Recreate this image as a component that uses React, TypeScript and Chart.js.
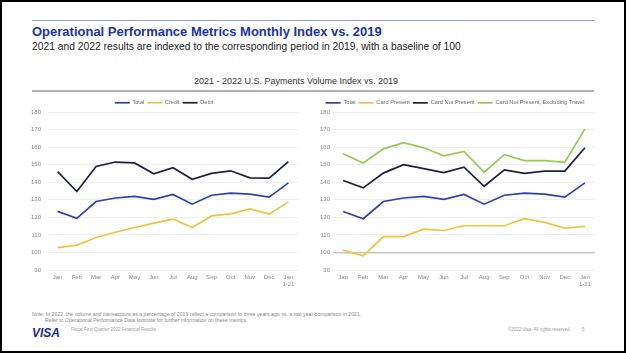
import React, { useEffect, useRef } from 'react';
import { Chart, registerables } from 'chart.js';

Chart.register(...registerables);

// ---- Data ----
const categories: (string | string[])[] = ['Jan', 'Feb', 'Mar', 'Apr', 'May', 'Jun', 'Jul', 'Aug', 'Sep', 'Oct', 'Nov', 'Dec', ['Jan', '1-21']];
const yTickMin = 90;
const yTickMax = 180;
const yTickStep = 10;

const leftTotal = [123.4, 119.4, 129, 131, 131.9, 130.2, 133, 127.5, 132.6, 133.8, 133.2, 131.5, 139.6];
const leftCredit = [102.7, 104.2, 108.5, 111.5, 114.2, 116.7, 119, 114.2, 120.8, 122, 124.8, 121.8, 128.8];
const leftDebit = [146, 134.7, 149, 151.5, 151, 144.8, 148.3, 141.7, 145, 146.5, 142.5, 142.3, 151.7];

const rightTotal = [123.3, 119.2, 129, 131, 131.9, 130.2, 133, 127.5, 132.6, 133.8, 133.2, 131.5, 139.6];
const rightCardPresent = [101.3, 98.1, 109, 109, 113.3, 112.5, 115.2, 115.2, 115.2, 119.2, 117.1, 113.8, 114.8];
const rightCardNotPresent = [141, 136.8, 145.2, 150, 147.7, 145.5, 148.6, 137.7, 147, 145, 146.3, 146.3, 159.6];
const rightCNPExTravel = [156.2, 151, 159, 162.5, 159.6, 155, 157.6, 145.7, 155.7, 152.3, 152.3, 151.3, 170.4];

const leftNames = ['Total', 'Credit', 'Debit'];
const rightNames = ['Total', 'Card Present', 'Card Not Present', 'Card Not Present, Excluding Travel'];

// ---- Styles ----
const FONT = '"Liberation Sans", Arial, Helvetica, sans-serif';
const BLUE = '#2e40b0';
const YELLOW = '#f4c13c';
const NAVY = '#1c2140';
const GREEN = '#98c954';

function ds(label: string, data: number[], color: string) {
  return {
    label,
    data,
    borderColor: color,
    backgroundColor: color,
    borderWidth: 1.7,
    pointRadius: 0,
    pointHoverRadius: 0,
    tension: 0,
    fill: false,
  };
}

type ChartProps = {
  left: number;
  top: number;
  width: number;
  height: number;
  datasets: any[];
  padding: { top: number; left: number; right: number; bottom: number };
  yPad: number;
  legendSize: number;
  highlight100: boolean;
};

function LineChart({ left, top, width, height, datasets, padding, yPad, legendSize, highlight100 }: ChartProps) {
  const ref = useRef<HTMLCanvasElement>(null);
  useEffect(() => {
    if (!ref.current) return;
    const chart = new Chart(ref.current, {
      type: 'line',
      data: { labels: categories, datasets },
      options: {
        responsive: false,
        animation: false,
        layout: { padding },
        plugins: {
          title: { display: false },
          tooltip: { enabled: false },
          legend: {
            display: true,
            position: 'top',
            maxHeight: 15,
            labels: {
              usePointStyle: true,
              pointStyle: 'line',
              pointStyleWidth: 15,
              padding: 3,
              color: '#666',
              font: { family: FONT, size: legendSize },
            },
          },
        },
        scales: {
          x: {
            type: 'category',
            offset: true,
            grid: { display: false, drawTicks: false },
            border: { display: false },
            ticks: {
              autoSkip: false,
              maxRotation: 0,
              minRotation: 0,
              padding: 4,
              color: '#888',
              font: { family: FONT, size: 6, lineHeight: 1.1 },
            },
            afterFit: (scale: any) => {
              scale.height = 20;
            },
          },
          y: {
            min: yTickMin,
            max: yTickMax,
            ticks: {
              stepSize: yTickStep,
              padding: yPad,
              color: '#888',
              font: { family: FONT, size: 6 },
            },
            grid: {
              drawTicks: false,
              color: (c: any) => (highlight100 && c.tick && c.tick.value === 100 ? '#c6c6c6' : '#eeeeee'),
              lineWidth: (c: any) => (highlight100 && c.tick && c.tick.value === 100 ? 1.4 : 1),
            },
            border: { display: false },
            afterFit: (scale: any) => {
              scale.width = 18;
            },
          },
        },
      },
    } as any);
    return () => chart.destroy();
  }, []);
  return (
    <canvas
      ref={ref}
      width={width}
      height={height}
      style={{ position: 'absolute', left, top, width, height }}
    />
  );
}

const txt = (extra: React.CSSProperties): React.CSSProperties => ({
  position: 'absolute',
  whiteSpace: 'nowrap',
  fontFamily: FONT,
  margin: 0,
  ...extra,
});

export default function App() {
  useEffect(() => {
    document.body.style.margin = '0';
  }, []);

  const leftSets = [
    ds(leftNames[0], leftTotal, BLUE),
    ds(leftNames[1], leftCredit, YELLOW),
    ds(leftNames[2], leftDebit, NAVY),
  ];
  const rightSets = [
    ds(rightNames[0], rightTotal, BLUE),
    ds(rightNames[1], rightCardPresent, YELLOW),
    ds(rightNames[2], rightCardNotPresent, NAVY),
    ds(rightNames[3], rightCNPExTravel, GREEN),
  ];

  return (
    <div style={{ position: 'fixed', left: 0, top: 0, width: 626, height: 353, background: '#fff', overflow: 'hidden' }}>
      {/* top rule */}
      <div style={{ position: 'absolute', left: 32, top: 19.5, width: 563, height: 1, background: '#8f9be0' }} />
      <div style={txt({ left: 32, top: 24.8, fontSize: 13, lineHeight: '13px', fontWeight: 700, color: '#1b32ad' })}>
        Operational Performance Metrics Monthly Index vs. 2019
      </div>
      <div style={txt({ left: 32, top: 42, fontSize: 10.3, lineHeight: '10.3px', color: '#222' })}>
        2021 and 2022 results are indexed to the corresponding period in 2019, with a baseline of 100
      </div>
      <div style={txt({ left: 296, top: 76.6, fontSize: 9, lineHeight: '9px', color: '#333', transform: 'translateX(-50%)' })}>
        2021 - 2022 U.S. Payments Volume Index vs. 2019
      </div>
      {/* gray rule under chart title */}
      <div style={{ position: 'absolute', left: 32, top: 89.5, width: 562, height: 2, background: '#b0b0b0' }} />

      <LineChart
        left={20}
        top={92}
        width={290}
        height={200}
        datasets={leftSets}
        padding={{ top: 5, left: 10, right: 12, bottom: 2 }}
        yPad={7}
        legendSize={5.5}
        highlight100={false}
      />
      <LineChart
        left={313}
        top={92}
        width={297}
        height={200}
        datasets={rightSets}
        padding={{ top: 5, left: 2, right: 15, bottom: 2 }}
        yPad={3}
        legendSize={5.7}
        highlight100={true}
      />

      {/* footer */}
      <div style={txt({ left: 32, top: 312.4, fontSize: 5.2, lineHeight: '5.2px', color: '#888' })}>
        Note: In 2022, the volume and transactions as a percentage of 2019 reflect a comparison to three years ago vs. a two year comparison in 2021.
      </div>
      <div style={txt({ left: 45, top: 318.1, fontSize: 5.2, lineHeight: '5.2px', color: '#888' })}>
        Refer to Operational Performance Data footnote for further information on these metrics.
      </div>
      <div style={txt({ left: 32, top: 326.8, fontSize: 12, lineHeight: '12px', fontWeight: 700, fontStyle: 'italic', color: '#1a2b8c' })}>
        VISA
      </div>
      <div style={txt({ left: 71, top: 327.8, fontSize: 4.5, lineHeight: '4.5px', color: '#999' })}>
        Fiscal First Quarter 2022 Financial Results
      </div>
      <div style={txt({ left: 508, top: 327.8, fontSize: 4.5, lineHeight: '4.5px', color: '#999' })}>
        ©2022 Visa. All rights reserved.
      </div>
      <div style={txt({ left: 582, top: 327.8, fontSize: 4.5, lineHeight: '4.5px', color: '#999' })}>
        5
      </div>

      {/* outer black frame */}
      <div style={{ position: 'absolute', left: 0, top: 0, width: 626, height: 353, boxSizing: 'border-box', border: '2px solid #000', pointerEvents: 'none' }} />
    </div>
  );
}
